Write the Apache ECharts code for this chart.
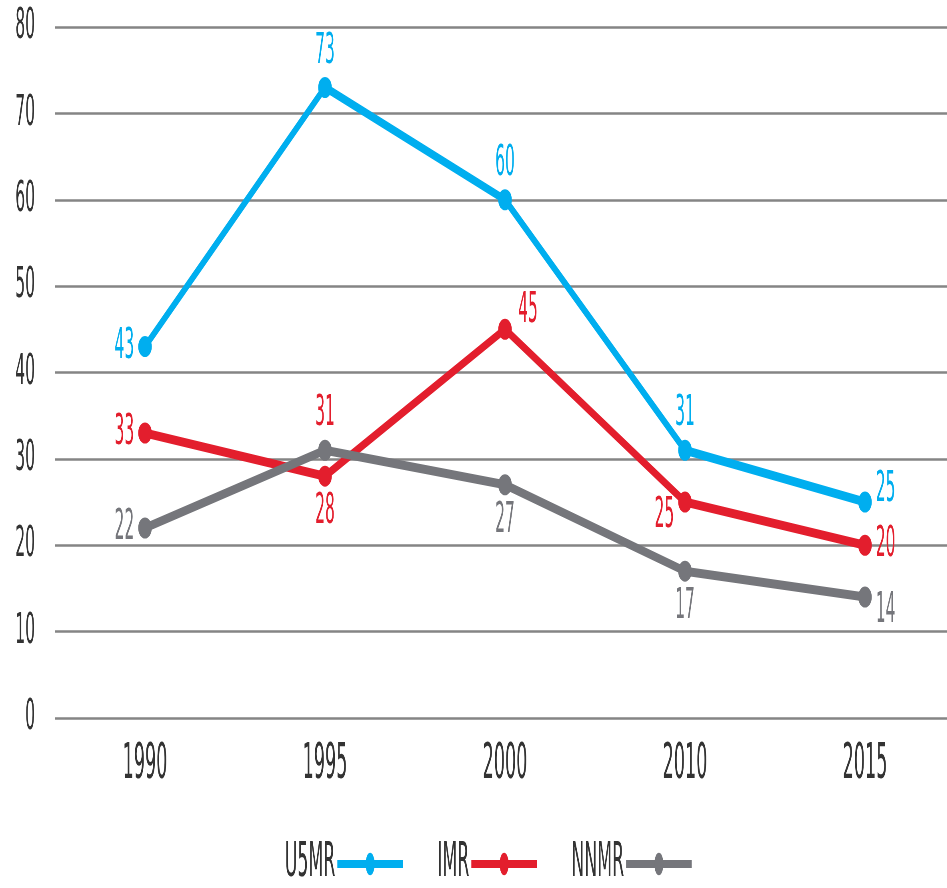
<!DOCTYPE html>
<html>
<head>
<meta charset="utf-8">
<script src="https://cdn.jsdelivr.net/npm/echarts@6/dist/echarts.min.js"></script>
<style>
  html, body { margin: 0; padding: 0; background: #ffffff; overflow: hidden; width: 947px; height: 888px; }
  /* Chart is laid out 2.5x as wide, then compressed horizontally to give the condensed look;
     the plot runs slightly past the right edge of the page */
  #chart { width: 2392px; height: 888px; transform: scaleX(0.4); transform-origin: 0 0; }
</style>
</head>
<body>
<div id="chart"></div>
<script>
// Mortality rates per 1,000 live births
const years = ['1990', '1995', '2000', '2010', '2015'];
const u5mr = [43, 73, 60, 31, 25];
const imr = [33, 28, 45, 25, 20];
const nnmr = [22, 31, 27, 17, 14];
const seriesNames = ['U5MR', 'IMR', 'NNMR'];

// Y axis range and step
const yMin = 0;
const yMax = 80;
const yStep = 10;

// Styling
const FONT = "'Liberation Sans Narrow', 'Arial Narrow', 'DejaVu Sans Condensed', sans-serif";
const TEXT = '#333333';
const colors = { U5MR: '#00aeef', IMR: '#e31e2d', NNMR: '#75767b' };

// Where each value label sits relative to its point: [position, offset, colour override]
const labelSpots = {
  U5MR: [['left'], ['top'], ['top'], ['top'], ['right', [0, -12]]],
  IMR: [['left'], ['bottom'], ['right', [6, -18]], ['left', [0, 14]], ['right']],
  NNMR: [['left'], ['top', [0, 0], '#e31e2d'], ['bottom'], ['bottom'], ['right', [0, 14]]]
};

function buildSeries(name, values) {
  const color = colors[name];
  return {
    name: name,
    type: 'line',
    data: values.map(function (v, i) {
      const spot = labelSpots[name][i];
      const pos = spot[0];
      return {
        value: v,
        label: {
          position: pos,
          distance: (pos === 'left' || pos === 'right') ? 10 : 4,
          offset: spot[1] || [0, 0],
          color: spot[2] || color
        }
      };
    }),
    symbol: 'circle',
    symbolSize: [34, 21],
    lineStyle: { color: color, width: 9 },
    itemStyle: { color: color },
    label: {
      show: true,
      fontFamily: FONT,
      fontSize: 43
    },
    emphasis: { disabled: true }
  };
}

const chart = echarts.init(document.getElementById('chart'), null, { renderer: 'canvas' });
chart.setOption({
  animation: false,
  backgroundColor: '#ffffff',
  grid: { left: 137.5, right: 4.5, top: 27, bottom: 170, containLabel: false, outerBoundsMode: 'none' },
  legend: {
    data: seriesNames,
    left: 707,
    top: 835,
    align: 'right',
    itemWidth: 164,
    itemHeight: 28,
    itemGap: 82,
    lineStyle: { width: 8 },
    textStyle: { fontFamily: FONT, fontSize: 48, color: TEXT }
  },
  xAxis: {
    type: 'category',
    data: years,
    boundaryGap: true,
    axisLine: { show: false },
    axisTick: { show: false },
    axisLabel: { fontFamily: FONT, fontSize: 49, color: TEXT, margin: 23 },
    splitLine: { show: false }
  },
  yAxis: {
    type: 'value',
    min: yMin,
    max: yMax,
    interval: yStep,
    axisLine: { show: false },
    axisTick: { show: false },
    axisLabel: { fontFamily: FONT, fontSize: 43, color: TEXT, margin: 50 },
    splitLine: { lineStyle: { color: '#858585', width: 2.5 } }
  },
  series: [
    buildSeries('U5MR', u5mr),
    buildSeries('IMR', imr),
    buildSeries('NNMR', nnmr)
  ]
});
</script>
</body>
</html>
